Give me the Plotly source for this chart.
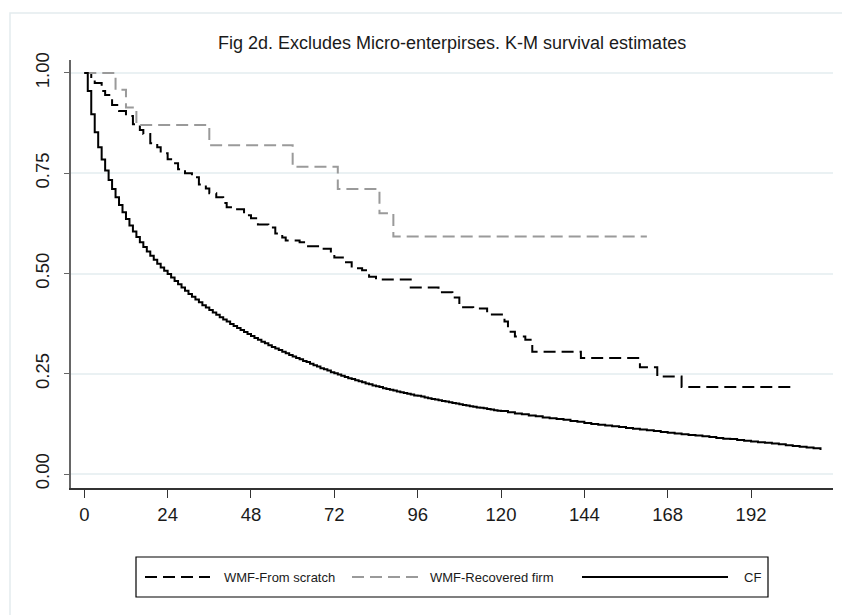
import plotly.graph_objects as go

# ---------------- data ----------------
cf_months = list(range(0, 121)) + list(range(122, 213, 2))
cf_surv = [1.000, 0.955, 0.897, 0.852, 0.815, 0.784, 0.757, 0.733, 0.711, 0.690,
           0.671, 0.653, 0.636, 0.620, 0.605, 0.591, 0.578, 0.566, 0.555, 0.544,
           0.534, 0.524, 0.515, 0.507, 0.499, 0.490, 0.481, 0.473, 0.465, 0.457,
           0.449, 0.442, 0.435, 0.428, 0.421, 0.415, 0.409, 0.403, 0.397, 0.391,
           0.385, 0.380, 0.374, 0.369, 0.364, 0.359, 0.354, 0.349, 0.344, 0.339,
           0.335, 0.330, 0.326, 0.321, 0.317, 0.313, 0.309, 0.305, 0.301, 0.297,
           0.293,
           0.289, 0.286, 0.282, 0.279, 0.275, 0.271, 0.268, 0.264, 0.261, 0.258,
           0.254, 0.251, 0.248, 0.245, 0.242, 0.239, 0.237, 0.234, 0.231, 0.229,
           0.226, 0.224, 0.221, 0.219, 0.217, 0.214, 0.212, 0.210, 0.208, 0.206,
           0.204, 0.202, 0.200, 0.198, 0.196, 0.195, 0.193, 0.191, 0.189, 0.187,
           0.186, 0.184, 0.182, 0.181, 0.179, 0.177, 0.176, 0.174, 0.172, 0.171,
           0.169, 0.168, 0.166, 0.165, 0.164, 0.162, 0.161, 0.159, 0.158, 0.157,
           0.154, 0.151, 0.149, 0.146, 0.144, 0.141, 0.139, 0.137, 0.135, 0.132,
           0.130, 0.127, 0.125, 0.123, 0.121, 0.119, 0.117, 0.115, 0.113, 0.111,
           0.109, 0.107, 0.105, 0.103, 0.101, 0.099, 0.097, 0.096, 0.094, 0.092,
           0.090, 0.088, 0.087, 0.085, 0.083, 0.081, 0.079, 0.078, 0.076, 0.074,
           0.072, 0.070, 0.068, 0.066, 0.064, 0.060]

scratch_months = [0, 2, 3, 5, 6, 8, 10, 12, 14, 16, 17, 19, 21, 22, 24, 25, 27, 29,
                  31, 33, 35, 36, 38, 40, 41, 44, 46, 48, 50, 53, 55, 57, 58, 62,
                  64, 68, 71, 72, 75, 77, 80, 82, 84, 94, 102, 106, 108, 112, 116,
                  121, 122, 124, 127, 129, 143, 160, 165, 172, 205]
scratch_surv = [1.000, 0.985, 0.975, 0.955, 0.945, 0.920, 0.905, 0.893, 0.872, 0.858,
                0.848, 0.825, 0.815, 0.800, 0.785, 0.775, 0.760, 0.750, 0.740, 0.722,
                0.712, 0.700, 0.690, 0.676, 0.665, 0.660, 0.645, 0.638, 0.622, 0.615,
                0.600, 0.590, 0.582, 0.578, 0.568, 0.562, 0.548, 0.540, 0.528, 0.513,
                0.508, 0.492, 0.485, 0.465, 0.453, 0.440, 0.416, 0.413, 0.398, 0.380,
                0.355, 0.343, 0.335, 0.305, 0.289, 0.266, 0.243, 0.217, 0.217]

recovered_months = [0, 9, 12, 15, 36, 60, 73, 85, 89, 162]
recovered_surv = [1.000, 0.958, 0.914, 0.870, 0.820, 0.766, 0.711, 0.650, 0.592, 0.592]

x_ticks = [0, 24, 48, 72, 96, 120, 144, 168, 192]
y_ticks = [0.00, 0.25, 0.50, 0.75, 1.00]
y_tick_text = ["0.00", "0.25", "0.50", "0.75", "1.00"]
series_names = ["WMF-From scratch", "WMF-Recovered firm", "CF"]
title_text = "Fig 2d. Excludes Micro-enterpirses. K-M survival estimates"

# ---------------- layout geometry ----------------
W, H = 842, 615
L, R, T, B = 71, 9, 60, 127
PW, PH = W - L - R, H - T - B
FONT = "Liberation Sans, Arial, Helvetica, sans-serif"
DASH = "12px,6px"
GREY = "#9a9a9a"


def px(x):
    return (x - L) / PW


def py(y):
    return (H - B - y) / PH


fig = go.Figure()
fig.add_trace(go.Scatter(x=scratch_months, y=scratch_surv, name=series_names[0],
                         mode="lines", line=dict(color="black", width=2, dash=DASH, shape="hv"),
                         showlegend=False))
fig.add_trace(go.Scatter(x=recovered_months, y=recovered_surv, name=series_names[1],
                         mode="lines", line=dict(color=GREY, width=2, dash=DASH, shape="hv"),
                         showlegend=False))
fig.add_trace(go.Scatter(x=cf_months, y=cf_surv, name=series_names[2],
                         mode="lines", line=dict(color="black", width=2, shape="hv"),
                         showlegend=False))

shapes = [
    # outer faint frame
    dict(type="rect", xref="paper", yref="paper", x0=px(10), x1=px(850), y0=py(630), y1=py(13),
         line=dict(color="#e3ecee", width=1.5), layer="below"),
    # legend box
    dict(type="rect", xref="paper", yref="paper", x0=px(136), x1=px(768), y0=py(597), y1=py(557),
         line=dict(color="black", width=1.2), fillcolor="white"),
    dict(type="line", xref="paper", yref="paper", x0=px(145), x1=px(210), y0=py(577), y1=py(577),
         line=dict(color="black", width=2, dash=DASH)),
    dict(type="line", xref="paper", yref="paper", x0=px(352), x1=px(418), y0=py(577), y1=py(577),
         line=dict(color=GREY, width=2, dash=DASH)),
    dict(type="line", xref="paper", yref="paper", x0=px(582), x1=px(728), y0=py(577), y1=py(577),
         line=dict(color="black", width=2)),
]

annotations = [
    dict(text=title_text, xref="paper", yref="paper", x=px(452), y=py(43),
         xanchor="center", yanchor="middle", showarrow=False,
         font=dict(family=FONT, size=18, color="#1a1a1a")),
]
for txt, xpos in zip(series_names, [222, 428, 742]):
    annotations.append(dict(text=txt, xref="paper", yref="paper", x=px(xpos), y=py(577),
                            xanchor="left", yanchor="middle", showarrow=False,
                            font=dict(family=FONT, size=13, color="#1a1a1a")))

fig.update_layout(
    width=W, height=H,
    margin=dict(l=L, r=R, t=T, b=B, pad=0),
    paper_bgcolor="white", plot_bgcolor="white",
    showlegend=False,
    shapes=shapes, annotations=annotations,
    font=dict(family=FONT, color="#1a1a1a"),
    xaxis=dict(range=[-3.83, 215.6], tickvals=x_ticks, showgrid=False, zeroline=False,
               showline=True, linecolor="#333333", linewidth=1.5,
               ticks="outside", ticklen=8, tickwidth=1.2, tickcolor="#333333",
               tickfont=dict(family=FONT, size=18.5, color="#1a1a1a"),
               ticklabelstandoff=1),
    yaxis=dict(range=[-0.0349, 1.0324], tickvals=y_ticks, ticktext=y_tick_text,
               showgrid=True, gridcolor="#eaf1f3", gridwidth=2, zeroline=False,
               showline=True, linecolor="#666666", linewidth=1.5,
               ticks="outside", ticklen=5, tickwidth=1.2, tickcolor="#666666",
               tickangle=-90,
               tickfont=dict(family=FONT, size=18.5, color="#1a1a1a"),
               ticklabelstandoff=8),
)

fig.write_html("out.html")
